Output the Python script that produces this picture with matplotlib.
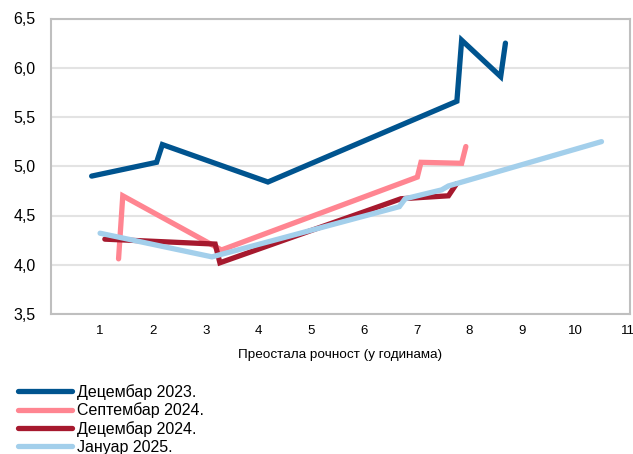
import matplotlib
matplotlib.use("Agg")
import matplotlib.pyplot as plt
from matplotlib.ticker import FuncFormatter

plt.rcParams['font.family'] = ['Liberation Sans', 'DejaVu Sans']

labels = ["Децембар 2023.", "Септембар 2024.", "Децембар 2024.", "Јануар 2025."]
colors = ["#00548F", "#FF8591", "#A6192E", "#A3CFEB"]

dec23_x = [0.84, 2.07, 2.18, 4.18, 7.76, 7.85, 8.59, 8.68]
dec23_y = [4.90, 5.04, 5.22, 4.84, 5.66, 6.28, 5.91, 6.25]

sep24_x = [1.35, 1.43, 3.30, 7.01, 7.08, 7.85, 7.93]
sep24_y = [4.06, 4.70, 4.15, 4.89, 5.04, 5.03, 5.20]

dec24_x = [1.09, 3.18, 3.27, 6.70, 7.60, 7.75]
dec24_y = [4.26, 4.21, 4.02, 4.67, 4.70, 4.82]

jan25_x = [1.00, 3.12, 6.67, 6.78, 7.47, 7.60, 10.50]
jan25_y = [4.32, 4.08, 4.59, 4.67, 4.76, 4.80, 5.25]

series_x = [dec23_x, sep24_x, dec24_x, jan25_x]
series_y = [dec23_y, sep24_y, dec24_y, jan25_y]

x_ticks = list(range(1, 12))
y_ticks = [3.5, 4.0, 4.5, 5.0, 5.5, 6.0, 6.5]
x_label = "Преостала рочност (у годинама)"

W, H = 633, 454
fig = plt.figure(figsize=(W / 100, H / 100), dpi=100)
ax = fig.add_axes([51 / W, (H - 314) / H, (630 - 51) / W, (314 - 18.5) / H])

for xs, ys, c, lab in zip(series_x, series_y, colors, labels):
    ax.plot(xs, ys, color=c, lw=3.8, label=lab,
            solid_capstyle='round', solid_joinstyle='miter')

ax.set_xlim(0.07, 11.04)
ax.set_ylim(3.5, 6.5)
ax.set_xticks(x_ticks)
ax.set_yticks(y_ticks)
ax.yaxis.set_major_formatter(FuncFormatter(lambda v, p: f"{v:.1f}".replace('.', ',')))
ax.tick_params(axis='both', length=0)
ax.tick_params(axis='y', labelsize=11.5, pad=11)
ax.tick_params(axis='x', labelsize=9.5, pad=8)
ax.grid(axis='y', color='#E3E3E3', lw=1.5)
ax.set_axisbelow(True)
for s in ax.spines.values():
    s.set_color('#BFBFBF')
    s.set_linewidth(1.5)

fig.text((51 + 630) / 2 / W, 1 - 355 / H, x_label, ha='center', va='center', fontsize=9.7)

handles, labs = ax.get_legend_handles_labels()
leg = fig.legend(handles, labs, loc='upper left', bbox_to_anchor=(18 / W, 1 - 384 / H),
                 frameon=False, fontsize=11.5, handlelength=3.35, handletextpad=0.33,
                 labelspacing=0.17, borderaxespad=0, borderpad=0)

fig.savefig("out.png", dpi=100)
